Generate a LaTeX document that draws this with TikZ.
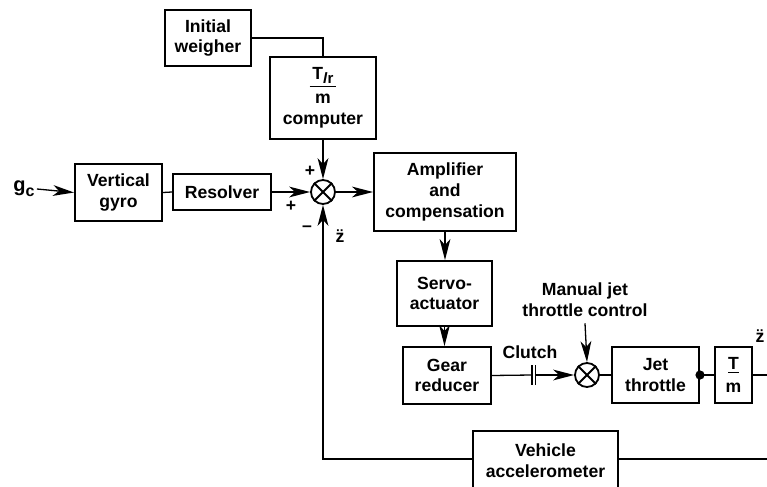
\documentclass[tikz,border=0pt]{standalone}
\usepackage{fontspec}
\setmainfont{Liberation Sans}
\usetikzlibrary{arrows.meta}

\tikzset{
    block/.style={draw, line width=1pt, align=center, inner sep=1pt},
    summer/.style={draw, circle, line width=0.9pt, minimum size=12pt, inner sep=0pt},
    wire/.style={line width=0.65pt},
    sig/.style={wire, -{Stealth[length=10.5pt,width=5.4pt,inset=3pt]}},
    lbl/.style={inner sep=0pt, align=center}
}

\begin{document}
\begin{tikzpicture}[x=0.5pt, y=-0.5pt, font=\fontsize{8.8}{10.4}\selectfont\bfseries]
            \useasboundingbox (0,0) rectangle (767,487);
            \clip (0,0) rectangle (767,487);
            % top row
            \node[block, minimum width=43pt, minimum height=28pt] (weigher) at (208,38) {Initial\\weigher};
            \node[block, minimum width=53pt, minimum height=41pt] (computer) at (323,98)
                {\underline{\,T\raisebox{-2pt}{\fontsize{7.5}{7.5}\selectfont\textit{l}r}\,}\\[1.5pt]m\\computer};
            % main line
            \node[lbl] (gc) at (24,189) {\fontsize{10}{10}\selectfont g\raisebox{-2.5pt}{\fontsize{8}{8}\selectfont c}};
            \node[block, minimum width=43.5pt, minimum height=28.5pt] (gyro) at (118.5,192.5) {Vertical\\gyro};
            \node[block, minimum width=49pt, minimum height=18pt] (resolver) at (222,192) {Resolver};
            \node[summer] (sumA) at (323,192) {};
            \node[block, minimum width=71pt, minimum height=39pt] (amp) at (445,192) {Amplifier\\and\\compensation};
            \node[block, minimum width=47.5pt, minimum height=32.5pt] (servo) at (444.5,293.5) {Servo-\\actuator};
            % lower row
            \node[block, minimum width=44pt, minimum height=28.5pt] (gear) at (447,375.5) {Gear\\reducer};
            \coordinate (clutchL) at (532,375);
            \coordinate (clutchR) at (535.5,375);
            \node[summer] (sumB) at (587,375) {};
            \node[lbl] (manual) at (585,300) {Manual jet\\throttle control};
            \node[block, minimum width=43.5pt, minimum height=28pt] (jet) at (655.5,375) {Jet\\throttle};
            \node[block, minimum width=18.5pt, minimum height=28pt] (tm) at (733.5,375)
                {\underline{T}\\[1pt]m};
            \coordinate (outA) at (767,375);
            \node[block, minimum width=72.5pt, minimum height=30pt] (accel) at (545.5,461) {Vehicle\\accelerometer};
            \coordinate (outB) at (767,459);
            % signs and labels
            \node[lbl] (plusA) at (310,171) {+};
            \node[lbl] (plusB) at (291,206) {+};
            \node[lbl] (minus) at (307,229) {\textendash};
            \node[lbl] (zddA) at (340,236) {\"z};
            \node[lbl] (clutch) at (530,352) {Clutch};
            \node[lbl] (zddB) at (760,336) {\"z};
            % crosses in the summers
            \foreach \s in {sumA,sumB} {
                \draw[line width=0.9pt] (\s.north east) -- (\s.south west);
                \draw[line width=0.9pt] (\s.north west) -- (\s.south east);
            }
            % connectors
            \draw[wire] (weigher.east) -| (computer.north);
            \draw[sig] (computer.south) -- (sumA.north);
            \draw[sig] (gc.east) ++(2,0) -- (gyro.west);
            \draw[wire] (gyro.east) -- (resolver.west);
            \draw[sig] (resolver.east) -- (sumA.west);
            \draw[sig] (sumA.east) -- (amp.west);
            \draw[sig] (amp.south) -- (amp.south |- servo.north);
            \draw[sig] (servo.south) -- (servo.south |- gear.north);
            \draw[wire] (gear.east) -- (clutchL);
            \draw[wire] ([yshift=5pt]clutchL) -- ([yshift=-5pt]clutchL);
            \draw[wire] ([yshift=5pt]clutchR) -- ([yshift=-5pt]clutchR);
            \draw[sig] (clutchR) -- (sumB.west);
            \draw[sig] (manual.south) ++(0,6) -- (sumB.north);
            \draw[wire] (sumB.east) -- (jet.west);
            \draw[wire] (jet.east) -- (tm.west);
            \fill (jet.east) circle (2.3pt);
            \draw[wire] (tm.east) -- (outA);
            \draw[wire] (accel.east |- outB) -- (outB);
            \draw[sig] (accel.west |- outB) -| (sumA.south);
        \end{tikzpicture}
\end{document}
